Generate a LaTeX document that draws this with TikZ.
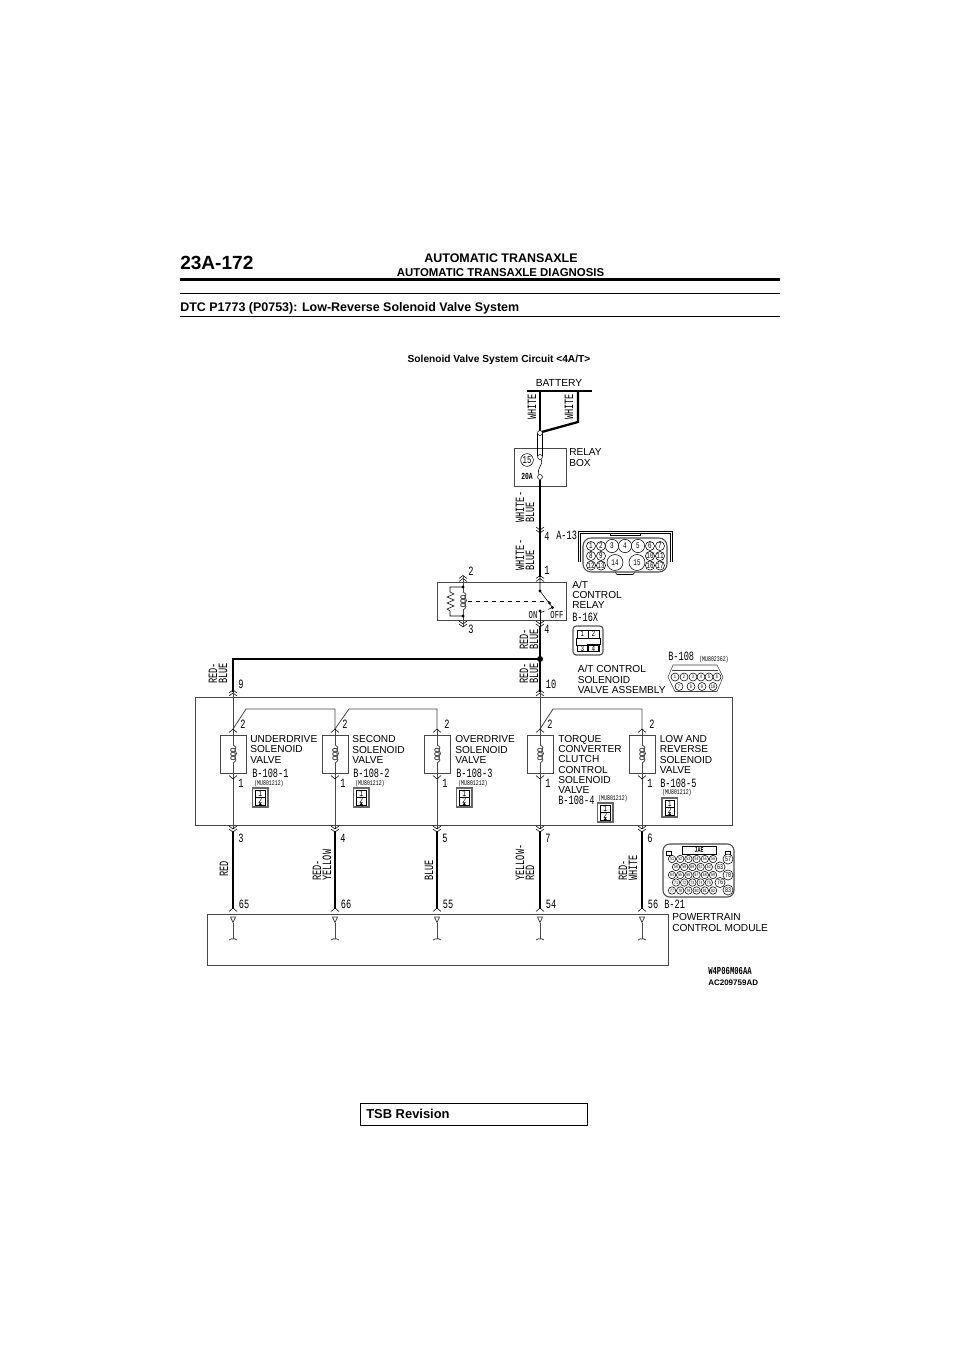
\documentclass[tikz,border=0pt]{standalone}
\usepackage{fontspec}
\setmainfont{Liberation Sans}
\newfontfamily\narrowfont[FakeStretch=0.68]{Liberation Mono}
\usetikzlibrary{shapes,arrows}

\colorlet{thinline}{black!72}
\tikzset{
  lab/.style={anchor=west,align=left,inner sep=0,font=\fontsize{7.6}{7.6}\selectfont},
  wirelab/.style={rotate=90,anchor=west,align=left,inner sep=0,font=\narrowfont\fontsize{9.5}{7.5}\selectfont},
  pinlab/.style={inner sep=0,font=\narrowfont\fontsize{9.5}{10}\selectfont},
  conlab/.style={anchor=west,inner sep=0,font=\narrowfont\fontsize{9.5}{10}\selectfont},
  partlab/.style={anchor=west,inner sep=0,font=\narrowfont\fontsize{5.4}{6}\selectfont},
  pinA/.style={circle,draw,fill=white,inner sep=0,minimum size=6.8pt,font=\narrowfont\fontsize{6.5}{7}\selectfont},
  pinB/.style={circle,draw,fill=white,inner sep=0,minimum size=10pt,font=\narrowfont\fontsize{6.5}{7}\selectfont},
  pinC/.style={circle,draw,fill=white,inner sep=0,minimum size=6pt,font=\narrowfont\fontsize{4}{5}\selectfont},
  pinD/.style={circle,draw,fill=white,inner sep=0,minimum size=7.6pt,font=\narrowfont\fontsize{5.5}{6}\selectfont},
  wirethick/.style={line width=1.7pt,black},
  wirethin/.style={line width=0.6pt,thinline},
  boxline/.style={line width=0.7pt,thinline},
  dblup/.pic={\draw[thin] (-4,3) -- (0,0) -- (4,3) (-4,6) -- (0,3) -- (4,6);},
  dbldown/.pic={\draw[thin] (-4,-3) -- (0,0) -- (4,-3) (-4,0) -- (0,3) -- (4,0);},
  oneup/.pic={\draw[thin] (-4,3.5) -- (0,0) -- (4,3.5);},
  onedown/.pic={\draw[thin] (-4,-3.5) -- (0,0) -- (4,-3.5);},
  coil/.pic={
    \draw[wirethin] (0,-9) .. controls (3.5,-7) and (3.5,-6) .. (2,-4) .. controls (4,-2) and (4,1) .. (2,3) .. controls (3.5,5) and (3.5,7) .. (0,9);
    \draw[wirethin] (0,-4) ellipse (2.4 and 1.8) (0,0) ellipse (2.4 and 1.8) (0,4) ellipse (2.4 and 1.8);
  },
  plug/.pic={
    \draw[line width=0.9pt,black!60] (0,0) rectangle (15.5,19);
    \draw[thin] (3,1.8) rectangle (12.5,9);
    \draw[line width=0.7pt] (3,9) rectangle (12.5,17.5);
    \fill (6,17.2) -- (7.7,14.6) -- (9.5,17.2) -- cycle;
    \node[inner sep=0,font=\narrowfont\fontsize{7}{8}\selectfont] (one) at (7.7,5.4) {1};
    \node[inner sep=0,font=\narrowfont\fontsize{7}{8}\selectfont] (two) at (7.7,12.6) {2};
  },
  pcmpin/.pic={
    \draw[wirethin] (-2.5,3) -- (2.5,3) -- (0,8.5) -- cycle;
    \draw[wirethin] (0,8.5) -- (0,25);
    \draw[wirethin] (-4,26) .. controls (-2,24) and (-1,25) .. (0,25) .. controls (1,25) and (2,24) .. (4,26);
  }
}

\begin{document}
\begin{tikzpicture}[x=0.75pt,y=-0.75pt]
\useasboundingbox (0,0) rectangle (960,1358);
\fill[white] (0,0) rectangle (960,1358);

% page header
\node[anchor=west,inner sep=0,font=\bfseries\fontsize{14.3}{16}\selectfont] (pagenum) at (180,263) {23A-172};
\node[inner sep=0,font=\bfseries\fontsize{9.35}{10}\selectfont] (headA) at (501,258) {AUTOMATIC TRANSAXLE};
\node[inner sep=0,font=\bfseries\fontsize{8.55}{10}\selectfont] (headB) at (500.5,272.5) {AUTOMATIC TRANSAXLE DIAGNOSIS};
\draw[line width=1.9pt] (180,279.5) -- (780,279.5);
\draw[line width=0.6pt] (180,293.5) -- (780,293.5);
\node[anchor=west,inner sep=0,font=\bfseries\fontsize{9.36}{10}\selectfont] (dtc) at (180,308) {DTC P1773 (P0753): Low-Reverse Solenoid Valve System};
\draw[line width=0.6pt] (180,316.5) -- (780,316.5);
\node[inner sep=0,font=\bfseries\fontsize{7.63}{9}\selectfont] (title) at (499,359.5) {Solenoid Valve System Circuit <4A/T>};

% battery and relay box
\node[inner sep=0,font=\fontsize{7.7}{9}\selectfont] (battery) at (559,383) {BATTERY};
\coordinate (battL) at (527,391);
\coordinate (battR) at (592,391);
\coordinate (battA) at (540,391);
\coordinate (battB) at (578,391);
\coordinate (battC) at (578,422);
\coordinate (fuseT) at (540,432.5);
\draw[line width=0.8pt] (battL) -- (battR);
\draw[wirethick] (battA) -- (fuseT);
\draw[wirethick] (battB) -- (battC) -- (fuseT);
\node[wirelab] (whiteA) at (532,420) {WHITE};
\node[wirelab] (whiteB) at (569,420) {WHITE};
\draw[boxline] (514,448) rectangle (566,486);
\draw[thin] (537.5,433) -- (537.5,456) (542.7,433) -- (542.7,456);
\node[circle,draw,thin,fill=white,inner sep=0,minimum size=3.7pt] (fuseA) at (540,433) {};
\node[circle,draw,thin,fill=white,inner sep=0,minimum size=3.7pt] (fuseB) at (540,457) {};
\node[circle,draw,thin,fill=white,inner sep=0,minimum size=3.7pt] (fuseC) at (540,477) {};
\draw[thin] (fuseB) .. controls (544,464) and (536,469) .. (fuseC);
\node[circle,draw,thin,inner sep=0,minimum size=9.5pt,font=\narrowfont\fontsize{8}{9}\selectfont] (fuseno) at (527,460) {15};
\node[inner sep=0,font=\narrowfont\bfseries\fontsize{7}{8}\selectfont] (fuseamp) at (527,476.5) {20A};
\node[lab] (relaybox) at (569,457.5) {RELAY\\BOX};
\node[wirelab] (wbA) at (525,523) {WHITE-\\BLUE};
\node[wirelab] (wbB) at (525,571) {WHITE-\\BLUE};

% main feed
\coordinate (feedJ) at (540,659);
\coordinate (feedL) at (233,659);
\coordinate (feedB) at (540,692);
\coordinate (feedD) at (233,692);
\draw[wirethick] (fuseC) -- (540,577);
\draw[wirethick] (540,626) -- (feedJ) -- (feedB);
\draw[wirethick] (feedJ) -- (feedL) -- (feedD);
\fill (feedJ) circle (3);
\pic at (540,530) {dbldown};
\node[pinlab] (p4a) at (547,536.5) {4};
\node[conlab] (conA) at (556,535.5) {A-13};
\node[pinlab] (p1a) at (547,570.5) {1};

% A-13 connector
\draw[thin] (578,562) -- (578,531) -- (672,531) -- (672,562);
\draw[thin] (580,562) -- (580,533) -- (670,533) -- (670,562);
\draw[thin] (610,533) rectangle (640,535.5);
\draw[thin] (615,572) -- (617,574.5) -- (633,574.5) -- (635,572);
\draw[thick,rounded corners=6pt,black!70] (583,538) rectangle (667,572);
\foreach \n/\x/\y in {1/591/546,2/601/546,6/650/546,7/660/546,8/591/556,9/601/556,10/650/556,11/660/556,12/591/565.5,13/601/565.5,16/650/565.5,17/660/565.5}
  \node[pinA] (ca\n) at (\x,\y) {\n};
\foreach \n/\x/\y in {3/612/546,4/625/546,5/638/546}
  \node[pinB] (ca\n) at (\x,\y) {\n};
\foreach \n/\x in {14/615,15/637}
  \node[pinB,minimum size=12pt] (ca\n) at (\x,562.5) {\n};

% A/T control relay
\draw[boxline] (437.5,582) rectangle (566,620);
\foreach \x in {463,540} {
  \pic at (\x,575.5) {dblup};
  \pic at (\x,624) {dbldown};
}
\node[pinlab] (p2r) at (471,571) {2};
\node[pinlab] (p3r) at (471,629.5) {3};
\node[pinlab] (p4r) at (547,629.5) {4};
\draw[wirethin] (463,576) -- (463,592) (463,610) -- (463,626);
\pic at (463,601) {coil};
\fill (463,587) circle (1.6) (463,616) circle (1.6);
\draw[thin] (463,587) -- (450,587) -- (450,592) -- (454,594) -- (447,597) -- (454,600) -- (447,603) -- (454,606) -- (447,609) -- (450,611) -- (450,616) -- (463,616);
\draw[thin,dashed] (468,601) -- (549,601);
\coordinate (swA) at (540,591);
\coordinate (swB) at (552.5,607.5);
\draw[thin] (540,577) -- (swA) -- (swB);
\fill (swA) circle (1.6) (swB) circle (1.6) (549.5,603) circle (1.6) (540,611) circle (1.6);
\draw[thin,dashed] (541,612.5) -- (swB);
\draw[thin] (540,611) -- (540,626);
\node[inner sep=0,font=\narrowfont\fontsize{8}{9}\selectfont] (onlab) at (533,615) {ON};
\node[inner sep=0,font=\narrowfont\fontsize{8}{9}\selectfont] (offlab) at (557,615) {OFF};
\node[lab] (relaylab) at (572,595) {A/T\\CONTROL\\RELAY};
\node[conlab] (conB) at (572,617) {B-16X};
\node[wirelab] (rbA) at (529,650) {RED-\\BLUE};
\node[wirelab] (rbB) at (529,684) {RED-\\BLUE};
\node[wirelab] (rbC) at (218,684) {RED-\\BLUE};

% B-16X connector
\draw[line width=0.9pt,black!65,rounded corners=2.5pt] (573,626) rectangle (603,655);
\draw[thin] (576,638) -- (600,638) (576,645) -- (600,645) (576,638) -- (576,645) (600,638) -- (600,645);
\draw[line width=0.7pt] (577,630) rectangle (588,638) (588,630) rectangle (599,638);
\draw[thin] (577,645) rectangle (588,651.5);
\draw[line width=0.8pt] (588,645) rectangle (599,651.5);
\node[inner sep=0,font=\narrowfont\fontsize{6.5}{7}\selectfont] (cb1) at (582.5,634) {1};
\node[inner sep=0,font=\narrowfont\fontsize{6.5}{7}\selectfont] (cb2) at (593.5,634) {2};
\node[inner sep=0,font=\narrowfont\fontsize{6.5}{7}\selectfont] (cb3) at (582.5,648.5) {3};
\node[inner sep=0,font=\narrowfont\fontsize{6.5}{7}\selectfont] (cb4) at (593.5,648.5) {4};

% B-108 connector
\node[conlab] (conC) at (668,656) {B-108};
\node[partlab] (partC) at (699,660) {(MU802362)};
\node[lab] (assylab) at (577.5,679.5) {A/T CONTROL\\SOLENOID\\VALVE ASSEMBLY};
\draw[thin,black!75] (673,665) -- (717,665) -- (723,677) -- (717,691.5) -- (675,691.5) -- (668,677) -- cycle;
\draw[thin,black!75] (672,670.5) -- (718,670.5);
\foreach \n/\x in {1/675,2/684,3/693,4/701,5/709,6/717}
  \node[pinC] (cc\n) at (\x,677) {\n};
\foreach \n/\x in {7/679,8/691,9/702,10/713}
  \node[pinC] (cc\n) at (\x,686.5) {\n};

% solenoid valve assembly
\draw[boxline] (195,697) rectangle (732,825);
\node[pinlab] (p9) at (241,684) {9};
\node[pinlab] (p10) at (551,684) {10};
\pic at (233,690) {dblup};
\pic at (540,690) {dblup};
\foreach \x/\nm in {233/a,335/b,437/c,540/d,642/e} {
  \coordinate (top\nm) at (\x,692);
  \coordinate (bot\nm) at (\x,829);
  \draw[wirethin] (bot\nm) -- (\x,779);
  \draw[wirethin] (\x,729) -- (\x,745);
  \draw[wirethin] (\x,763) -- (\x,779);
  \draw[boxline] (\x-12.5,735) rectangle (\x+13.5,773);
  \pic at (\x,729) {oneup};
  \pic at (\x,779) {onedown};
  \pic at (\x,754) {coil};
  \node[pinlab] (upper\nm) at (\x+10,724) {2};
  \node[pinlab] (lower\nm) at (\x+8,783) {1};
}
\draw[wirethin] (topa) -- (233,729);
\draw[wirethin] (topd) -- (540,729);
\draw[wirethin] (233,729) -- (246,709) -- (335,709) -- (335,729);
\draw[wirethin] (335,729) -- (349,709) -- (437,709) -- (437,729);
\draw[wirethin] (540,729) -- (553,709) -- (642,709) -- (642,729);

% valve labels
\node[lab] (valvelabA) at (250,749.5) {UNDERDRIVE\\SOLENOID\\VALVE};
\node[lab] (valvelabB) at (352,749.5) {SECOND\\SOLENOID\\VALVE};
\node[lab] (valvelabC) at (455,749.5) {OVERDRIVE\\SOLENOID\\VALVE};
\node[lab] (valvelabD) at (558,764.5) {TORQUE\\CONVERTER\\CLUTCH\\CONTROL\\SOLENOID\\VALVE};
\node[lab] (valvelabE) at (659.5,754.5) {LOW AND\\REVERSE\\SOLENOID\\VALVE};
\node[conlab] (conDa) at (252,773) {B-108-1};
\node[conlab] (conDb) at (353,773) {B-108-2};
\node[conlab] (conDc) at (456,773) {B-108-3};
\node[conlab] (conDd) at (558,800) {B-108-4};
\node[conlab] (conDe) at (660,783) {B-108-5};
\node[partlab] (partA) at (254,784) {(MU801212)};
\node[partlab] (partB) at (355,784) {(MU801212)};
\node[partlab] (partD) at (458,784) {(MU801212)};
\node[partlab] (partE) at (598,799) {(MU801212)};
\node[partlab] (partF) at (662,793) {(MU801212)};
\pic (plugA) at (252.5,788) {plug};
\pic (plugB) at (353.5,788) {plug};
\pic (plugC) at (456.5,788) {plug};
\pic (plugD) at (597.5,803) {plug};
\pic (plugE) at (662,798) {plug};

% wires down to the module
\draw[boxline] (207,914) rectangle (668,965);
\foreach \x/\nm/\pa/\pb in {233/a/3/65,335/b/4/66,437/c/5/55,540/d/7/54,642/e/6/56} {
  \coordinate (pcm\nm) at (\x,909);
  \draw[wirethick] (\x,831) -- (pcm\nm);
  \pic at (\x,829) {dbldown};
  \pic at (\x,908) {oneup};
  \pic at (\x,914) {pcmpin};
  \node[pinlab] (numA\nm) at (\x+8,838) {\pa};
  \node[pinlab] (numB\nm) at (\x+11,904) {\pb};
}
\node[wirelab] (redlab) at (224,877) {RED};
\node[wirelab] (rylab) at (322,881) {RED-\\YELLOW};
\node[wirelab] (bluelab) at (429,881) {BLUE};
\node[wirelab] (yrlab) at (525,881) {YELLOW-\\RED};
\node[wirelab] (rwlab) at (628,881) {RED-\\WHITE};
\node[conlab] (conE) at (664,904) {B-21};
\node[lab] (pcmlab) at (672,922.5) {POWERTRAIN\\CONTROL MODULE};

% B-21 connector
\draw[line width=0.8pt,black!70,rounded corners=5pt] (663,844) rectangle (734,897);
\draw[thin] (682,846) rectangle (716,854.5);
\node[inner sep=0,font=\narrowfont\bfseries\fontsize{5.5}{6}\selectfont] (jae) at (699,850) {JAE};
\draw[thin] (666.5,851) rectangle (671.5,855.5) (725.5,851) rectangle (730.5,855.5);
\foreach \y/\sx/\a/\b in {859/672/51/56,867/676/58/62,875/672/64/69,882.5/676/71/75,890.5/672/77/82}
  \foreach \n [count=\i] in {\a,...,\b}
    \node[pinC,minimum size=5.6pt,font=\narrowfont\fontsize{3.6}{4}\selectfont] (ce\n) at ({\sx+8.2*(\i-1)},\y) {\n};
\foreach \n/\x/\y in {57/728/859,63/720/867,70/728/875,76/720/882.5,83/728/890}
  \node[pinD] (ce\n) at (\x,\y) {\n};

% footer
\node[anchor=west,inner sep=0,font=\narrowfont\bfseries\fontsize{8}{9}\selectfont] (code) at (708,971) {W4P06M06AA};
\node[anchor=west,inner sep=0,font=\bfseries\fontsize{6}{8}\selectfont] (ref) at (708,983) {AC209759AD};
\draw[line width=0.6pt] (360,1103) rectangle (587,1125);
\node[anchor=west,inner sep=0,font=\bfseries\fontsize{9.7}{10}\selectfont] (tsb) at (366,1114) {TSB Revision};
\end{tikzpicture}
\end{document}
